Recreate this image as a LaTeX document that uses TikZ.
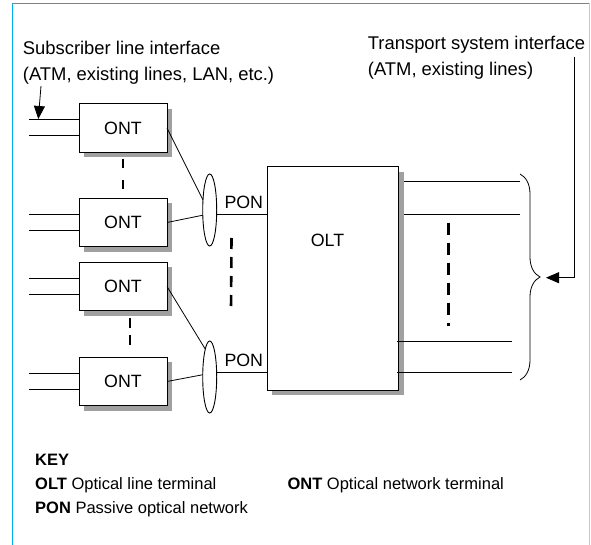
\documentclass[tikz,border=0pt]{standalone}
\usepackage{fontspec}
\setmainfont{Liberation Sans}
\usetikzlibrary{shapes.geometric,shadows,decorations.pathreplacing,arrows.meta,calc}
\definecolor{framecyan}{RGB}{0,174,239}
\definecolor{framelight}{RGB}{150,215,245}
\definecolor{shadowgray}{RGB}{160,160,160}
\begin{document}
\begin{tikzpicture}[x=1pt,y=-1pt,
  lbl/.style={font=\fontsize{17.8}{21}\selectfont, inner sep=0pt},
  ttl/.style={font=\fontsize{18.4}{22}\selectfont, inner sep=0pt, anchor=base west},
  keytxt/.style={font=\fontsize{16.5}{20}\selectfont, inner sep=0pt, anchor=base west},
  ontbox/.style={draw, line width=0.9pt, fill=white, minimum width=88pt, minimum height=48.5pt,
    inner sep=0pt, outer sep=0pt, font=\fontsize{17.8}{21}\selectfont,
    drop shadow={shadow xshift=5pt, shadow yshift=-5pt, fill=shadowgray, opacity=1}},
  splitter/.style={draw, ellipse, line width=0.9pt, minimum width=14pt, minimum height=72pt,
    inner sep=0pt, outer sep=0pt},
  wire/.style={line width=0.8pt},
  dots/.style={line width=2.6pt},
  tip/.style={-{Triangle[length=13pt,width=11pt]}}
]
\useasboundingbox (0,0) rectangle (591,545);
% frame
\draw[framecyan, line width=1.3pt] (12.5,545) -- (12.5,3.5) -- (589.5,3.5);
\draw[framelight, line width=1.3pt] (589.5,3.5) -- (589.5,545);

% titles
\node[ttl] (subA) at (22.7,55) {Subscriber line interface};
\node[ttl] (subB) at (22.7,81) {(ATM, existing lines, LAN, etc.)};
\node[ttl] (trA) at (367.7,50) {Transport system interface};
\node[ttl] (trB) at (367.7,76) {(ATM, existing lines)};

% ONT boxes
\node[ontbox] (ont1) at (123,128) {ONT};
\node[ontbox] (ont2) at (123,222.5) {ONT};
\node[ontbox] (ont3) at (123,286.5) {ONT};
\node[ontbox] (ont4) at (123,381.5) {ONT};

% subscriber lines
\foreach \n in {ont1,ont2,ont3,ont4}{
  \draw[wire] ([yshift=8.5pt]\n.west) -- ++(-50,0);
  \draw[wire] ([yshift=-7.5pt]\n.west) -- ++(-50,0);
}
\coordinate (sa) at (41,86);
\coordinate (sb) at (38.3,119);
\draw[wire,tip] (sa) -- (sb);

% dashed continuation marks
\draw[dots, dash pattern=on 9pt off 12pt] (123,159) -- (123,190);
\draw[dots, dash pattern=on 10pt off 7pt] (130,318) -- (130,348.5);
\draw[dots, dash pattern=on 11pt off 8pt] (231.5,238) -- (231,310);
\draw[dots, dash pattern=on 12pt off 8pt] (448.3,222.7) -- (448.3,326);

% splitters
\node[splitter] (e1) at (209.7,210) {};
\node[splitter] (e2) at (209.7,377) {};

% OLT
\node[ontbox, minimum width=131.4pt, minimum height=223.3pt] (olt) at (333,278.3) {};
\node[lbl, anchor=base] (oltlbl) at (327.5,246.7) {OLT};

% ONT to splitter
\draw[wire] (ont1.east) -- (e1.124);
\draw[wire] (ont2.east) -- (e1.217);
\draw[wire] (ont3.east) -- (e2.99);
\draw[wire] (ont4.east) -- (e2.162);

% PON links
\draw[wire] (e1.-30) -- (e1.-30 -| olt.west);
\draw[wire] (e2.34) -- (e2.34 -| olt.west);
\node[lbl, anchor=base] (pon1) at (243.8,209) {PON};
\node[lbl, anchor=base] (pon2) at (243.8,366) {PON};

% OLT outputs
\draw[wire] ([xshift=5.5pt,yshift=-15pt]olt.north east) -- ++(115.5,0);
\draw[wire] ([xshift=5.5pt,yshift=-47.6pt]olt.north east) -- ++(116,0);
\draw[wire] ([xshift=-1.7pt,yshift=48.7pt]olt.south east) -- ++(114.7,0);
\draw[wire] ([xshift=-1.7pt,yshift=17.3pt]olt.south east) -- ++(114.7,0);

% brace and transport arrow
\coordinate (bu) at (520,174);
\coordinate (bd) at (520,380);
\draw[wire, decorate, decoration={brace, amplitude=20pt}] (bu) -- (bd);
\coordinate (ta) at (574,56.7);
\coordinate (tb) at (546,277.7);
\draw[wire,tip] (ta) |- (tb);

% key
\node[keytxt] (key) at (35,465) {\bfseries KEY};
\node[keytxt] (kolt) at (35,489.3) {\textbf{OLT} Optical line terminal};
\node[keytxt] (kpon) at (35,513.3) {\textbf{PON} Passive optical network};
\node[keytxt] (kont) at (287.3,489.3) {\textbf{ONT} Optical network terminal};
\end{tikzpicture}
\end{document}
